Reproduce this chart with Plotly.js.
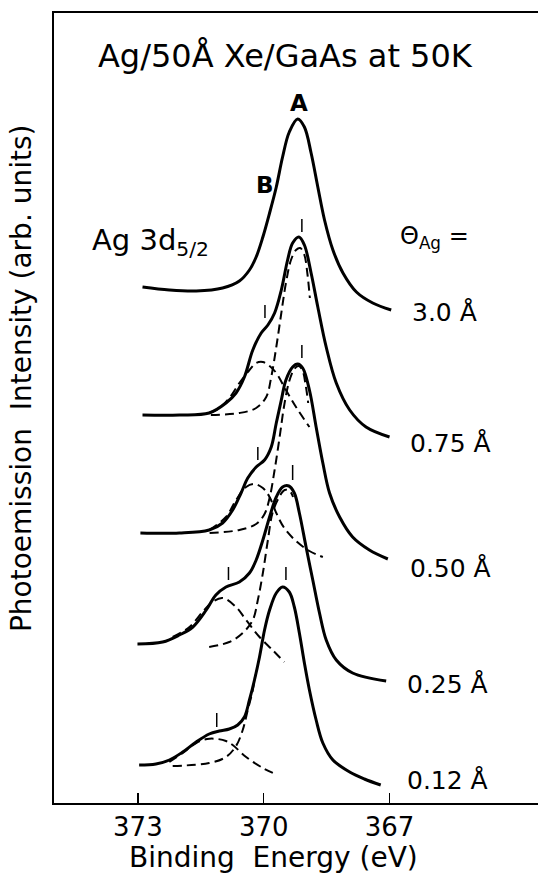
<!DOCTYPE html>
<html>
<head>
<meta charset="utf-8">
<script src="https://cdn.plot.ly/plotly-3.0.1.min.js"></script>
<style>html,body{margin:0;padding:0;background:#fff;}#chart{width:538px;height:873px;}</style>
</head>
<body>
<div id="chart"></div>
<script>
// ---- Data (binding energy in eV, intensity in arb. units, spectra stacked) ----
const coverageLabels = ['3.0 Å', '0.75 Å', '0.50 Å', '0.25 Å', '0.12 Å'];
const tickValues = [373, 370, 367];

// Θ = 3.0 Å
const energy30 = [372.89, 372.25, 371.61, 370.98, 370.58, 370.34, 370.18, 370.02, 369.86, 369.70, 369.55, 369.39, 369.19, 369.03, 368.87, 368.71, 368.55, 368.35, 368.11, 367.79, 367.40, 366.96];
const intensity30 = [516, 513, 512, 515, 522, 533, 546, 566, 590, 616, 646, 671, 684, 676, 650, 616, 583, 553, 530, 511, 500, 493];

// Θ = 0.75 Å
const energy075 = [372.89, 372.01, 371.30, 370.90, 370.66, 370.46, 370.26, 370.06, 369.90, 369.74, 369.58, 369.43, 369.31, 369.16, 369.03, 368.87, 368.71, 368.51, 368.27, 367.95, 367.56, 367.00];
const intensity075 = [388, 388, 390, 400, 410, 426, 453, 470, 478, 490, 513, 543, 560, 566, 558, 530, 496, 456, 420, 393, 376, 366];
const energy075A = [371.26, 370.58, 370.18, 369.94, 369.82, 369.70, 369.58, 369.47, 369.35, 369.23, 369.13, 369.03, 368.96, 368.90];
const intensity075A = [388, 390, 395, 406, 426, 456, 490, 520, 543, 553, 555, 548, 530, 505];
const energy075B = [371.30, 371.06, 370.82, 370.58, 370.34, 370.18, 370.02, 369.86, 369.70, 369.47, 369.23, 368.91];
const intensity075B = [390, 395, 405, 420, 433, 440, 441, 437, 430, 413, 396, 376];

// Θ = 0.50 Å
const energy050 = [372.94, 372.01, 371.30, 370.98, 370.74, 370.54, 370.38, 370.18, 369.98, 369.82, 369.70, 369.58, 369.47, 369.31, 369.19, 369.07, 368.91, 368.75, 368.59, 368.43, 368.19, 367.88, 367.48, 367.04];
const intensity050 = [270, 270, 273, 280, 293, 310, 325, 336, 343, 356, 380, 403, 423, 436, 439, 435, 413, 376, 340, 310, 286, 266, 253, 244];
const energy050A = [371.29, 370.58, 370.18, 369.98, 369.86, 369.74, 369.62, 369.51, 369.39, 369.27, 369.17, 369.08, 369.00, 368.94];
const intensity050A = [270, 273, 279, 289, 305, 333, 366, 398, 422, 434, 437, 433, 418, 400];
const energy050B = [371.30, 370.90, 370.66, 370.42, 370.22, 370.02, 369.86, 369.70, 369.51, 369.23, 368.91, 368.59];
const intensity050B = [273, 286, 303, 316, 319, 315, 306, 290, 275, 262, 252, 246];

// Θ = 0.25 Å
const energy025 = [373.01, 372.41, 372.01, 371.69, 371.37, 371.14, 370.90, 370.58, 370.34, 370.18, 370.02, 369.86, 369.70, 369.55, 369.40, 369.27, 369.15, 368.99, 368.83, 368.67, 368.51, 368.27, 367.88, 367.08];
const intensity025 = [159, 161, 168, 176, 193, 208, 216, 221, 230, 243, 263, 286, 306, 316, 317, 310, 290, 256, 223, 190, 163, 143, 130, 122];
const energy025A = [371.30, 370.82, 370.50, 370.26, 370.14, 370.02, 369.90, 369.79, 369.63, 369.50, 369.38, 369.30];
const intensity025A = [156, 161, 170, 183, 203, 230, 263, 290, 306, 313, 312, 306];
const energy025B = [372.17, 371.77, 371.46, 371.22, 370.98, 370.66, 370.42, 370.10, 369.79, 369.51];
const intensity025B = [166, 176, 191, 201, 205, 196, 183, 166, 153, 141];

// Θ = 0.12 Å
const energy012 = [372.97, 372.57, 372.25, 371.93, 371.61, 371.30, 371.06, 370.82, 370.62, 370.46, 370.34, 370.22, 370.10, 369.98, 369.86, 369.70, 369.55, 369.39, 369.27, 369.15, 369.03, 368.91, 368.75, 368.59, 368.35, 367.95, 367.60, 367.21];
const intensity012 = [38, 39, 43, 51, 61, 69, 72, 74, 78, 86, 103, 123, 146, 173, 193, 210, 216, 211, 196, 170, 140, 113, 83, 60, 43, 31, 24, 18];
const energy012A = [372.17, 371.30, 370.90, 370.66, 370.50, 370.38, 370.26, 370.20];
const intensity012A = [37, 40, 46, 57, 73, 93, 113, 128];
const energy012B = [372.25, 371.93, 371.61, 371.35, 371.10, 370.90, 370.74, 370.42, 370.02, 369.67];
const intensity012B = [41, 50, 60, 64, 64, 62, 58, 46, 35, 28];

// Peak-position markers (short vertical bars): energy, lower and upper intensity
const markerEnergy = [369.09, 369.97, 369.09, 370.14, 369.31, 370.84, 369.47, 371.12];
const markerLow = [571, 485, 445, 343, 323, 223, 223, 76];
const markerHigh = [584, 498, 458, 356, 338, 236, 236, 90];

// ---- Traces ----
const solidLine = {color: '#000', width: 3, shape: 'spline', smoothing: 1};
const dashLine = {color: '#000', width: 2, shape: 'spline', smoothing: 1, dash: '9px,5px'};

function tr(x, y, line, name) {
  return {x: x, y: y, type: 'scatter', mode: 'lines', line: line, name: name, hoverinfo: 'skip'};
}

const mx = [], my = [];
markerEnergy.forEach((e, i) => { mx.push(e, e, null); my.push(markerLow[i], markerHigh[i], null); });

const data = [
  tr(energy075A, intensity075A, dashLine, '0.75 A'),
  tr(energy075B, intensity075B, dashLine, '0.75 B'),
  tr(energy050A, intensity050A, dashLine, '0.50 A'),
  tr(energy050B, intensity050B, dashLine, '0.50 B'),
  tr(energy025A, intensity025A, dashLine, '0.25 A'),
  tr(energy025B, intensity025B, dashLine, '0.25 B'),
  tr(energy012A, intensity012A, dashLine, '0.12 A'),
  tr(energy012B, intensity012B, dashLine, '0.12 B'),
  tr(energy30, intensity30, solidLine, coverageLabels[0]),
  tr(energy075, intensity075, solidLine, coverageLabels[1]),
  tr(energy050, intensity050, solidLine, coverageLabels[2]),
  tr(energy025, intensity025, solidLine, coverageLabels[3]),
  tr(energy012, intensity012, solidLine, coverageLabels[4]),
  {x: mx, y: my, type: 'scatter', mode: 'lines', line: {color: '#000', width: 1.5}, hoverinfo: 'skip', name: 'peak positions'}
];

const F = 'DejaVu Sans, Arial, sans-serif';
function ann(text, x, y, size, opts) {
  return Object.assign({text: text, x: x, y: y, xref: 'x', yref: 'y', showarrow: false,
    font: {family: F, size: size, color: '#000'}, xanchor: 'left', yanchor: 'middle'}, opts || {});
}

const layout = {
  width: 538, height: 873,
  margin: {l: 54, r: 0, t: 13, b: 70, pad: 0},
  paper_bgcolor: '#fff', plot_bgcolor: '#fff',
  showlegend: false,
  title: {text: 'Ag/50Å Xe/GaAs at 50K', font: {family: F, size: 32, color: '#000'},
          xref: 'paper', x: 0.477, xanchor: 'center', yref: 'container', y: 0.936, yanchor: 'middle'},
  xaxis: {
    range: [375.0, 363.46], showgrid: false, zeroline: false,
    showline: true, linecolor: '#000', linewidth: 2, mirror: true,
    ticks: 'inside', ticklen: 10, tickwidth: 1.5, tickcolor: '#000',
    tickvals: tickValues, ticktext: tickValues.map(String),
    tickfont: {family: F, size: 26, color: '#000'}
  },
  yaxis: {
    range: [0, 790], showgrid: false, zeroline: false,
    showline: true, linecolor: '#000', linewidth: 2, mirror: false,
    ticks: '', showticklabels: false
  },
  annotations: [
    {text: 'Binding\u00a0\u00a0Energy (eV)', xref: 'paper', yref: 'paper', x: 0.4535, y: -0.0696,
     showarrow: false, xanchor: 'center', yanchor: 'middle', font: {family: F, size: 28, color: '#000'}},
    {text: 'Photoemission\u00a0\u00a0Intensity (arb. units)', xref: 'paper', yref: 'paper', x: -0.066, y: 0.538,
     showarrow: false, textangle: -90, xanchor: 'center', yanchor: 'middle', font: {family: F, size: 28, color: '#000'}},
    ann('<b>A</b>', 369.17, 700, 23, {xanchor: 'center'}),
    ann('<b>B</b>', 369.98, 618, 23, {xanchor: 'center'}),
    ann('Ag 3d<sub>5/2</sub>', 374.14, 561, 29),
    ann('Θ<sub>Ag</sub> =', 366.80, 566, 24),
    ann(coverageLabels[0], 366.52, 491, 25),
    ann(coverageLabels[1], 366.57, 360, 25),
    ann(coverageLabels[2], 366.57, 235, 25),
    ann(coverageLabels[3], 366.62, 119, 25),
    ann(coverageLabels[4], 366.62, 23, 25)
  ]
};

Plotly.newPlot('chart', data, layout, {staticPlot: true, displayModeBar: false});
</script>
</body>
</html>
